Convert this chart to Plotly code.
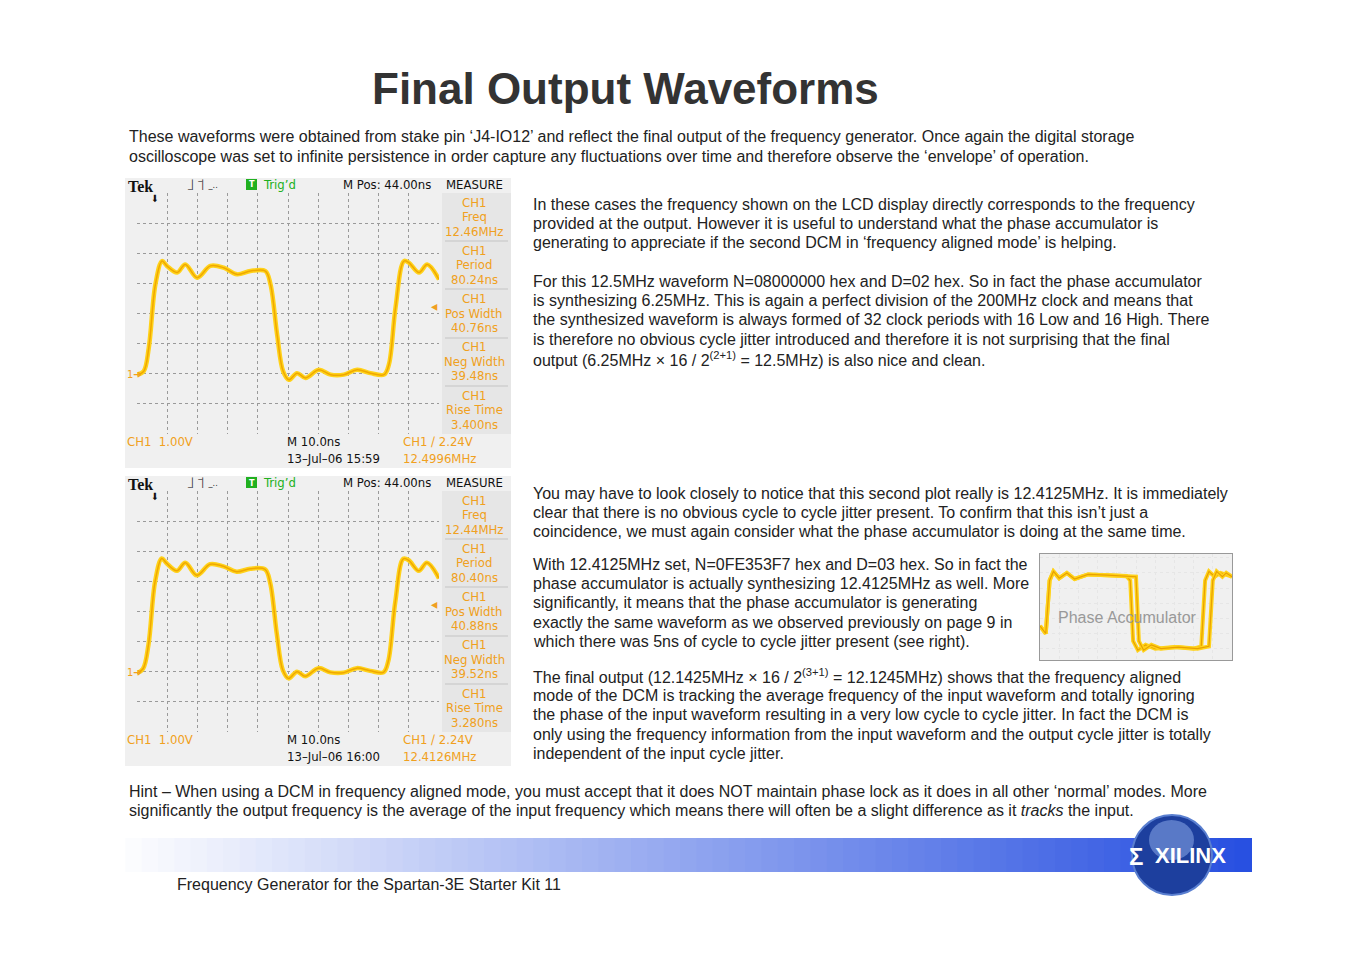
import plotly.graph_objects as go

W, H = 1351, 954

# Scope traces (time in ns, level in V)
scope1_t = [0, 2.2, 3.9, 6.1, 8.3, 9.9, 13.3, 16, 19.9, 24.3, 28.7, 33.1, 37.6, 42.5, 44.2, 46.4, 48.4, 50.3,
            53, 55.8, 60.2, 64.1, 68.5, 72.9, 77.3, 81.8, 83.4, 85.6, 88.4, 90, 93.4, 96.1, 100]
scope1_v = [-0.03, 0.08, 0.86, 2.97, 3.74, 3.58, 3.36, 3.63, 3.19, 3.58, 3.52, 3.3, 3.41, 3.41, 2.97, 1.3, 0.08, -0.2,
            0.02, -0.14, 0.13, -0.03, -0.03, 0.13, 0.02, -0.03, 0.3, 2.19, 3.74, 3.69, 3.36, 3.63, 3.13]
scope2_t = [0, 2.0, 3.8, 6.0, 8.2, 9.8, 13.2, 16, 19.8, 24.2, 28.6, 33.0, 37.5, 42.4, 44.1, 46.3, 48.3, 50.2,
            53, 55.7, 60.1, 64.0, 68.4, 72.8, 77.2, 81.6, 83.2, 85.5, 88.2, 90, 93.3, 96.0, 100]
scope2_v = [-0.05, 0.1, 0.9, 3.0, 3.76, 3.6, 3.35, 3.62, 3.2, 3.57, 3.5, 3.32, 3.42, 3.4, 2.95, 1.25, 0.05, -0.22,
            0.0, -0.15, 0.12, -0.02, -0.03, 0.12, 0.03, -0.02, 0.35, 2.3, 3.75, 3.7, 3.35, 3.62, 3.1]

# Phase accumulator inset, two jitter extremes
inset_a_t = [0, 3, 5, 7, 10, 14, 18, 25, 35, 45, 47, 48.5, 51, 55, 60, 70, 80, 84, 86, 88, 91, 94, 100]
inset_a_v = [0.3, 0.2, 0.9, 1.02, 0.93, 1.0, 0.92, 0.98, 0.97, 0.96, 0.9, 0.1, -0.02, 0.05, 0.0, 0.02, 0.0, 0.03, 0.9,
             1.02, 0.95, 1.0, 0.95]
inset_b_t = [0, 3, 5, 7, 10, 14, 18, 25, 35, 45, 50, 51.5, 54, 58, 63, 72, 82, 88, 90, 92, 95, 97, 100]
inset_b_v = [0.3, 0.2, 0.9, 1.02, 0.93, 1.0, 0.92, 0.98, 0.97, 0.96, 0.95, 0.1, -0.02, 0.05, 0.0, 0.02, 0.0, 0.03, 0.9,
             1.02, 0.95, 1.0, 0.95]

measure1 = [("Freq", "12.46MHz"), ("Period", "80.24ns"), ("Pos Width", "40.76ns"),
            ("Neg Width", "39.48ns"), ("Rise Time", "3.400ns")]
measure2 = [("Freq", "12.44MHz"), ("Period", "80.40ns"), ("Pos Width", "40.88ns"),
            ("Neg Width", "39.52ns"), ("Rise Time", "3.280ns")]
stamp1 = ("13\u2013Jul\u201306 15:59", "12.4996MHz")
stamp2 = ("13\u2013Jul\u201306 16:00", "12.4126MHz")

intro = ["These waveforms were obtained from stake pin \u2018J4-IO12\u2019 and reflect the final output of the frequency generator. Once again the digital storage",
         "oscilloscope was set to infinite persistence in order capture any fluctuations over time and therefore observe the \u2018envelope\u2019 of operation."]
para1 = ["In these cases the frequency shown on the LCD display directly corresponds to the frequency",
         "provided at the output. However it is useful to understand what the phase accumulator is",
         "generating to appreciate if the second DCM in \u2018frequency aligned mode\u2019 is helping."]
para2 = ["For this 12.5MHz waveform N=08000000 hex and D=02 hex. So in fact the phase accumulator",
         "is synthesizing 6.25MHz. This is again a perfect division of the 200MHz clock and means that",
         "the synthesized waveform is always formed of 32 clock periods with 16 Low and 16 High. There",
         "is therefore no obvious cycle jitter introduced and therefore it is not surprising that the final",
         "output (6.25MHz \u00d7 16 / 2<sup>(2+1)</sup> = 12.5MHz) is also nice and clean."]
para3 = ["You may have to look closely to notice that this second plot really is 12.4125MHz. It is immediately",
         "clear that there is no obvious cycle to cycle jitter present. To confirm that this isn\u2019t just a",
         "coincidence, we must again consider what the phase accumulator is doing at the same time."]
para4 = ["With 12.4125MHz set, N=0FE353F7 hex and D=03 hex. So in fact the",
         "phase accumulator is actually synthesizing 12.4125MHz as well. More",
         "significantly, it means that the phase accumulator is generating",
         "exactly the same waveform as we observed previously on page 9 in",
         "which there was 5ns of cycle to cycle jitter present (see right)."]
para5 = ["The final output (12.1425MHz \u00d7 16 / 2<sup>(3+1)</sup> = 12.1245MHz) shows that the frequency aligned",
         "mode of the DCM is tracking the average frequency of the input waveform and totally ignoring",
         "the phase of the input waveform resulting in a very low cycle to cycle jitter. In fact the DCM is",
         "only using the frequency information from the input waveform and the output cycle jitter is totally",
         "independent of the input cycle jitter."]
hint = ["Hint \u2013 When using a DCM in frequency aligned mode, you must accept that it does NOT maintain phase lock as it does in all other \u2018normal\u2019 modes. More",
        "significantly the output frequency is the average of the input frequency which means there will often be a slight difference as it <i>tracks</i> the input."]

BODY = "Liberation Sans, Arial, sans-serif"
SCOPE = "DejaVu Sans Condensed, Liberation Sans Narrow, sans-serif"
ORANGE = "#f0a020"
OX, OY = 9, 8  # page body margin


def px(x):
    return (x - OX) / W


def py(y):
    return 1 - (y - OY) / H


fig = go.Figure()
ann = []
shapes = []


def text(x, y, s, size=16, color="#222", family=BODY, xa="left", ya="middle", bold=False):
    ann.append(dict(x=px(x), y=py(y), xref="paper", yref="paper", text=("<b>%s</b>" % s) if bold else s,
                    showarrow=False, xanchor=xa, yanchor=ya, font=dict(size=size, color=color, family=family)))


def lines(x, y0, rows, step=19.4, size=16):
    for i, r in enumerate(rows):
        text(x, y0 + i * step, r, size=size)


text(626, 89, "Final Output Waveforms", size=44, color="#333", xa="center", bold=True)
lines(128, 137, intro)
lines(532, 204, para1)
lines(532, 281, para2)
lines(532, 493, para3)
lines(532, 564, para4)
lines(532, 676, para5)
lines(128, 791, hint)
text(176, 884, "Frequency Generator for the Spartan-3E Starter Kit 11", size=16)

# scope panels
for k, (tt, vv, meas, stamp) in enumerate([(scope1_t, scope1_v, measure1, stamp1),
                                            (scope2_t, scope2_v, measure2, stamp2)]):
    off = k * 298
    n = "" if k == 0 else str(k + 1)
    shapes.append(dict(type="rect", xref="paper", yref="paper", x0=px(126), x1=px(512),
                       y0=py(468 + off), y1=py(178 + off), fillcolor="#f0f0f0", line=dict(width=0), layer="below"))
    shapes.append(dict(type="rect", xref="paper", yref="paper", x0=px(443), x1=px(512),
                       y0=py(434 + off), y1=py(193 + off), fillcolor="#e6e6e6", line=dict(width=0), layer="below"))
    for sy in [241, 289, 338, 386]:
        shapes.append(dict(type="line", xref="paper", yref="paper", x0=px(446), x1=px(509),
                           y0=py(sy + off), y1=py(sy + off), line=dict(color="#cfcfcf", width=1.5)))
    fig.add_trace(go.Scatter(x=tt, y=vv, mode="lines", line=dict(color="#ffd21a", width=4.5, shape="spline"),
                             xaxis="x" + n, yaxis="y" + n, hoverinfo="skip"))
    fig.add_trace(go.Scatter(x=tt, y=vv, mode="lines", line=dict(color="#f0a800", width=1.5, shape="spline"),
                             xaxis="x" + n, yaxis="y" + n, hoverinfo="skip"))
    ax = dict(domain=[px(138), px(440)], range=[0, 100], dtick=10, showgrid=True, griddash="dot",
              gridcolor="#9a9a9a", gridwidth=1, showticklabels=False, zeroline=False, ticks="",
              anchor="y" + n)
    ay = dict(domain=[py(434 + off), py(193 + off)], range=[-2, 6], dtick=1, showgrid=True, griddash="dot",
              gridcolor="#9a9a9a", gridwidth=1, showticklabels=False, zeroline=False, ticks="",
              anchor="x" + n)
    fig.update_layout(**{"xaxis" + n: ax, "yaxis" + n: ay})
    text(127, 186 + off, "Tek", size=16, color="#111", family="Liberation Serif, serif", bold=True)
    text(186, 185 + off, "_\u258f\u203e\u258f_..", size=9, color="#333", family=SCOPE)
    shapes.append(dict(type="rect", xref="paper", yref="paper", x0=px(247), x1=px(258),
                       y0=py(190 + off), y1=py(179 + off), fillcolor="#20b020", line=dict(width=0)))
    text(252.5, 184.5 + off, "T", size=9, color="white", family=SCOPE, xa="center", bold=True)
    text(262, 184 + off, "Trig\u2019d", size=13, color="#20b020", family=SCOPE)
    text(342, 184 + off, "M Pos: 44.00ns", size=13, color="#111", family=SCOPE)
    text(475, 184 + off, "MEASURE", size=13, color="#111", family=SCOPE, xa="center")
    text(156, 198 + off, "\u2b07", size=10, color="#111", family=SCOPE, xa="center")
    text(126, 374 + off, "1\u2794", size=11, color=ORANGE, family=SCOPE)
    text(441, 306 + off, "\u25c2", size=14, color=ORANGE, family=SCOPE, xa="right")
    for i, (name, val) in enumerate(meas):
        y0 = 202 + i * 48.3 + off
        text(475, y0, "CH1", size=13, color=ORANGE, family=SCOPE, xa="center")
        text(475, y0 + 14.5, name, size=13, color=ORANGE, family=SCOPE, xa="center")
        text(475, y0 + 29, val, size=13, color=ORANGE, family=SCOPE, xa="center")
    text(126, 441 + off, "CH1  1.00V", size=13, color=ORANGE, family=SCOPE)
    text(286, 441 + off, "M 10.0ns", size=13, color="#111", family=SCOPE)
    text(402, 441 + off, "CH1 \u2215 2.24V", size=13, color=ORANGE, family=SCOPE)
    text(286, 458 + off, stamp[0], size=13, color="#111", family=SCOPE)
    text(402, 458 + off, stamp[1], size=13, color=ORANGE, family=SCOPE)

# inset
for tt, vv in [(inset_a_t, inset_a_v), (inset_b_t, inset_b_v)]:
    fig.add_trace(go.Scatter(x=tt, y=vv, mode="lines", line=dict(color="#ffd21a", width=4),
                             xaxis="x3", yaxis="y3", hoverinfo="skip"))
    fig.add_trace(go.Scatter(x=tt, y=vv, mode="lines", line=dict(color="#e8a000", width=1.2),
                             xaxis="x3", yaxis="y3", hoverinfo="skip"))
fig.update_layout(
    xaxis3=dict(domain=[px(1041), px(1233)], range=[0, 100], dtick=10, showgrid=True, griddash="dot",
                gridcolor="#e6e6e6", showticklabels=False, zeroline=False, showline=True, mirror=True,
                linecolor="#999", anchor="y3"),
    yaxis3=dict(domain=[py(660), py(554)], range=[-0.15, 1.25], dtick=0.2, showgrid=True, griddash="dot",
                gridcolor="#e6e6e6", showticklabels=False, zeroline=False, showline=True, mirror=True,
                linecolor="#999", anchor="x3"),
)
text(1128, 617, "Phase Accumulator", size=16, color="#999", xa="center")

# gradient banner
steps = 70
for i in range(steps):
    f = i / (steps - 1)
    r = int(255 + (40 - 255) * f)
    g = int(255 + (80 - 255) * f)
    b = int(255 + (225 - 255) * f)
    shapes.append(dict(type="rect", xref="paper", yref="paper", x0=px(110 + i * 1142 / steps),
                       x1=px(110 + (i + 1) * 1142 / steps + 1), y0=py(872), y1=py(838),
                       fillcolor="rgb(%d,%d,%d)" % (r, g, b), line=dict(width=0), layer="below"))
shapes.append(dict(type="circle", xref="paper", yref="paper", x0=px(1133), x1=px(1213), y0=py(895), y1=py(815),
                   fillcolor="#1d3f9e", line=dict(color="#5a7fd0", width=2)))
shapes.append(dict(type="circle", xref="paper", yref="paper", x0=px(1150), x1=px(1195), y0=py(860), y1=py(820),
                   fillcolor="rgba(150,180,240,0.5)", line=dict(width=0)))
text(1128, 856, "\u03a3", size=24, color="white", family=BODY, bold=True)
text(1191, 855, "XILINX", size=22, color="white", family="Liberation Sans Narrow, Arial Narrow, sans-serif",
     xa="center", bold=True)

fig.update_layout(width=W, height=H, margin=dict(l=0, r=0, t=0, b=0), paper_bgcolor="white",
                  plot_bgcolor="#f0f0f0", showlegend=False, annotations=ann, shapes=shapes)

fig.write_html("out.html")
